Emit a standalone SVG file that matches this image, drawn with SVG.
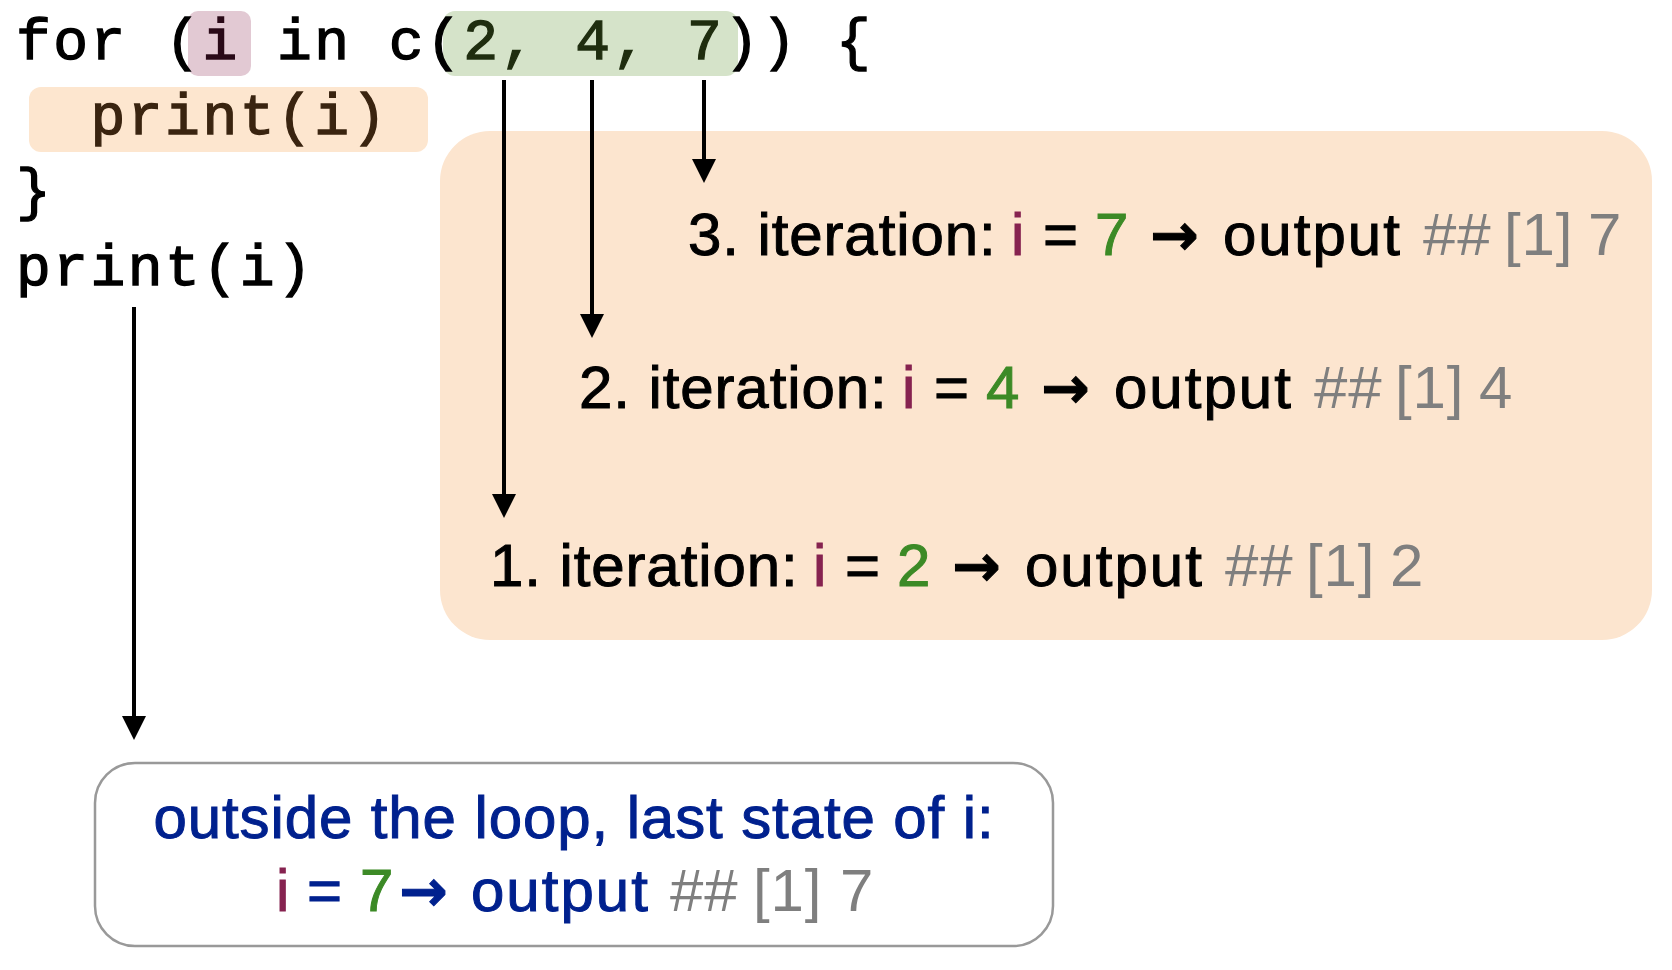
<svg xmlns="http://www.w3.org/2000/svg" width="1672" height="970" viewBox="0 0 1672 970">
<style>
  .code { font-family: "Liberation Mono", "Courier New", monospace; font-size: 58px; letter-spacing: 2.47px; fill: #000; stroke: #000; stroke-width: 1.3px; }
  .sans { font-family: "Liberation Sans", Arial, Helvetica, sans-serif; font-size: 60px; letter-spacing: 0.9px; }
  .arw { font-family: "DejaVu Sans", sans-serif; font-size: 58px; font-weight: bold; letter-spacing: 0; }
  .out { letter-spacing: 2px; }
  .blk { fill: #000; stroke: #000; stroke-width: 1px; }
  .pu { fill: #862350; stroke: #862350; stroke-width: 1px; }
  .gr { fill: #3c8a26; stroke: #3c8a26; stroke-width: 1px; }
  .gy { fill: #7f7f7f; stroke: none; }
  .nv { fill: #00218e; stroke: #00218e; stroke-width: 1px; }
  .conn { stroke: #000; stroke-width: 4; fill: none; }
</style>
<defs>
  <marker id="ah" markerUnits="userSpaceOnUse" markerWidth="24" markerHeight="24" refX="12" refY="12" orient="auto">
    <path d="M0,0 L24,12 L0,24 z" fill="#000"/>
  </marker>
</defs>
<rect width="1672" height="970" fill="#fff"/>

<g id="loop-body-box">
  <rect x="440" y="131" width="1212" height="509" rx="50" ry="50" fill="#fce5cf"/>
</g>

<g id="code">
  <rect x="188" y="11" width="63" height="65" rx="10" fill="#e2c9d3"/>
  <rect x="443" y="11" width="295" height="65" rx="12" fill="#d5e3c9"/>
  <rect x="29" y="87" width="399" height="65" rx="12" fill="#fde6cf"/>
  <text class="code" x="16" y="59">for (<tspan fill="#2a0a18" stroke="#2a0a18">i</tspan> in c(<tspan fill="#1f2d0f" stroke="#1f2d0f">2, 4, 7</tspan>)) {</text>
  <text class="code" x="16" y="134" xml:space="preserve">  <tspan fill="#3a2410" stroke="#3a2410">print(i)</tspan></text>
  <text class="code" x="16" y="209">}</text>
  <text class="code" x="16" y="285">print(i)</text>
</g>

<g id="connectors">
  <line class="conn" x1="504" y1="80" x2="504" y2="506" marker-end="url(#ah)"/>
  <line class="conn" x1="592" y1="80" x2="592" y2="326" marker-end="url(#ah)"/>
  <line class="conn" x1="704" y1="80" x2="704" y2="171" marker-end="url(#ah)"/>
  <line class="conn" x1="134" y1="307" x2="134" y2="728" marker-end="url(#ah)"/>
</g>

<g id="iteration-3" transform="translate(688,255)">
  <text class="sans"><tspan class="blk" x="0">3. iteration: </tspan><tspan class="pu" x="323">i </tspan><tspan class="blk" x="355">= </tspan><tspan class="gr" x="407">7 </tspan><tspan class="blk arw" x="462">→ </tspan><tspan class="blk out" x="535">output </tspan><tspan class="gy" x="735">## </tspan><tspan class="gy" x="816">[1] </tspan><tspan class="gy" x="900">7</tspan></text>
</g>

<g id="iteration-2" transform="translate(579,408)">
  <text class="sans"><tspan class="blk" x="0">2. iteration: </tspan><tspan class="pu" x="323">i </tspan><tspan class="blk" x="355">= </tspan><tspan class="gr" x="407">4 </tspan><tspan class="blk arw" x="462">→ </tspan><tspan class="blk out" x="535">output </tspan><tspan class="gy" x="735">## </tspan><tspan class="gy" x="816">[1] </tspan><tspan class="gy" x="900">4</tspan></text>
</g>

<g id="iteration-1" transform="translate(490,586)">
  <text class="sans"><tspan class="blk" x="0">1. iteration: </tspan><tspan class="pu" x="323">i </tspan><tspan class="blk" x="355">= </tspan><tspan class="gr" x="407">2 </tspan><tspan class="blk arw" x="462">→ </tspan><tspan class="blk out" x="535">output </tspan><tspan class="gy" x="735">## </tspan><tspan class="gy" x="816">[1] </tspan><tspan class="gy" x="900">2</tspan></text>
</g>

<g id="outside-box">
  <rect x="95" y="763" width="958" height="183" rx="40" ry="40" fill="#fff" stroke="#999" stroke-width="2.5"/>
  <text class="sans nv" x="574" y="838" text-anchor="middle" letter-spacing="1.5">outside the loop, last state of i:</text>
  <text class="sans"><tspan class="pu" x="276" y="911">i </tspan><tspan class="nv" x="307" y="911">= </tspan><tspan class="gr" x="360" y="911">7</tspan><tspan class="nv arw" x="399" y="911">→ </tspan><tspan class="nv out" x="471" y="911">output </tspan><tspan class="gy" x="670" y="911">## </tspan><tspan class="gy" x="753" y="911">[1] </tspan><tspan class="gy" x="840" y="911">7</tspan></text>
</g>
</svg>
